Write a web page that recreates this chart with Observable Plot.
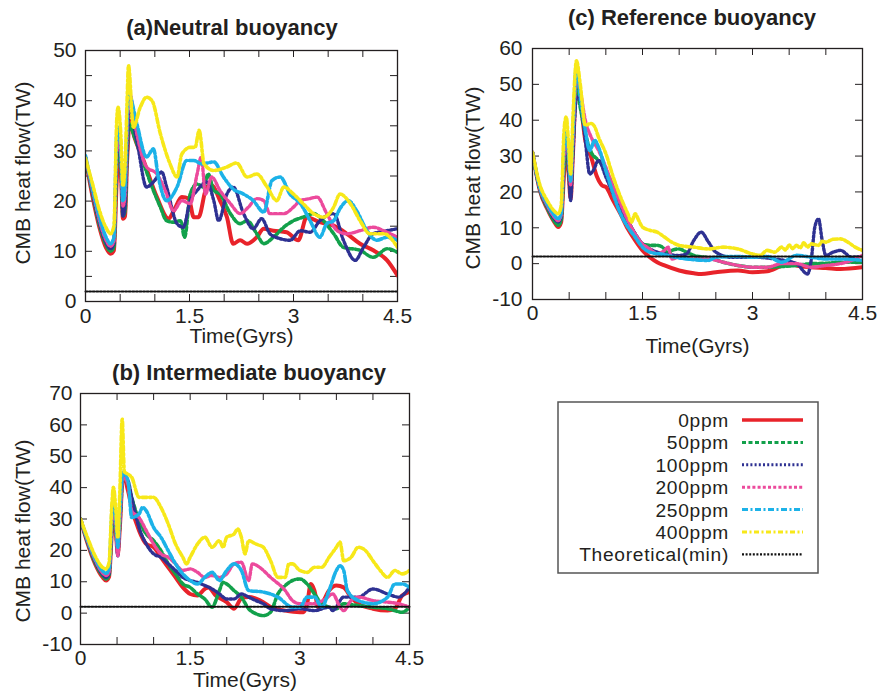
<!DOCTYPE html>
<html><head><meta charset="utf-8">
<script src="https://cdn.jsdelivr.net/npm/d3@7"></script>
<script src="https://cdn.jsdelivr.net/npm/@observablehq/plot@0.6"></script>
<style>
body{margin:0;background:#fff;}
#root{position:relative;width:880px;height:691px;font-family:"Liberation Sans",Arial,Helvetica,sans-serif;color:#231f20;overflow:hidden;}
.panel{position:absolute;}
.title{position:absolute;font-weight:bold;font-size:22px;white-space:nowrap;transform:translate(-50%,-50%);line-height:1;}
</style></head>
<body><div id="root"></div>
<script>
// ---------- tick values ----------
const xMinorTicks = [0,0.5,1,1.5,2,2.5,3,3.5,4,4.5];
const xLabelTicks = [0,1.5,3,4.5];
const aYTicks = [0,5,10,15,20,25,30,35,40,45,50];
const aYLabels = [0,10,20,30,40,50];
const bYTicks = [-10,0,10,20,30,40,50,60,70];
const cYTicks = [-10,0,10,20,30,40,50,60];

const seriesNames = ["0ppm","50ppm","100ppm","200ppm","250ppm","400ppm"];
const theoreticalName = "Theoretical(min)";
const theoretical = [[0,2],[4.5,2]];

// ---------- (a) Neutral buoyancy ----------
const a_0ppm = [[0,28.5],[0.1,21],[0.2,14.8],[0.3,10.6],[0.36,9.5],[0.41,10.2],[0.45,24],[0.48,29],[0.51,26],[0.54,16.5],[0.57,17],[0.6,28],[0.64,36],[0.7,33],[0.84,28],[1.03,20.8],[1.2,16.5],[1.27,18],[1.39,20.8],[1.49,20.5],[1.56,16.8],[1.63,16.8],[1.75,22.8],[1.82,23.1],[1.94,20.1],[2.04,16.8],[2.13,11.5],[2.23,12.2],[2.33,11.5],[2.47,12.8],[2.57,14.5],[2.71,14.1],[2.9,13.8],[3.07,12.2],[3.19,16.8],[3.38,15.8],[3.58,15.1],[3.77,13.5],[3.96,11.5],[4.15,10.2],[4.35,8.2],[4.5,5.2]];
const a_50ppm = [[0,28.6],[0.1,21.5],[0.2,15.3],[0.3,11.2],[0.36,10],[0.41,10.8],[0.45,27],[0.48,30],[0.51,27],[0.54,17],[0.57,18],[0.6,29],[0.63,35.4],[0.7,33],[0.84,27.4],[0.98,22.1],[1.08,18.8],[1.17,16.1],[1.27,15.8],[1.37,16.1],[1.43,12.8],[1.51,21.4],[1.61,23.4],[1.7,22.8],[1.77,25.4],[1.85,22.1],[1.94,21.4],[2.09,17.5],[2.23,15.5],[2.33,16.1],[2.47,13.5],[2.57,11.5],[2.71,12.8],[2.86,14.8],[3.0,16.1],[3.14,16.8],[3.29,17.5],[3.43,16.1],[3.58,13.5],[3.72,10.8],[3.96,10.2],[4.15,8.8],[4.35,10.5],[4.5,9.8]];
const a_100ppm = [[0,28.7],[0.1,21.8],[0.2,15.7],[0.3,11.6],[0.36,10.5],[0.41,11.5],[0.45,29],[0.48,31],[0.51,28],[0.54,17],[0.57,19],[0.6,30],[0.63,38],[0.74,32],[0.88,22.8],[0.98,23.8],[1.1,25.8],[1.17,22.8],[1.32,15.5],[1.41,14.8],[1.51,20.1],[1.61,22.1],[1.75,23.8],[1.85,20.1],[1.92,16.1],[2.04,21.4],[2.13,22.8],[2.28,17.5],[2.42,14.5],[2.54,16.5],[2.66,13.5],[2.81,12.5],[2.95,12.2],[3.1,14.1],[3.24,13.8],[3.38,16.1],[3.58,17.5],[3.72,12.2],[3.89,8.2],[4.01,10.8],[4.15,13.5],[4.35,14.1],[4.5,14.5]];
const a_200ppm = [[0,28.7],[0.1,22.2],[0.2,16.2],[0.3,12.1],[0.36,11],[0.41,12],[0.45,30],[0.48,32],[0.51,29],[0.54,19],[0.57,21],[0.6,33],[0.63,41.7],[0.74,33.4],[0.88,26.8],[1.03,25.4],[1.15,22.1],[1.27,18.1],[1.39,20.1],[1.51,19.5],[1.61,25.4],[1.67,28.8],[1.73,21.4],[1.82,24.8],[1.94,22.1],[2.09,19.5],[2.23,17.5],[2.35,18.8],[2.47,20.5],[2.57,20.1],[2.66,17.5],[2.86,17.5],[3.0,18.8],[3.1,20.1],[3.24,20.5],[3.34,20.8],[3.48,17.5],[3.63,14.1],[3.77,13.5],[3.96,14.1],[4.15,14.8],[4.3,14.1],[4.5,12.8]];
const a_250ppm = [[0,29],[0.1,22.6],[0.2,16.8],[0.3,12.7],[0.36,11.5],[0.41,12.8],[0.45,33],[0.48,34.7],[0.51,30],[0.54,20],[0.57,23],[0.6,36],[0.62,41.4],[0.74,35.4],[0.88,28.8],[0.98,30.4],[1.05,24.8],[1.17,20.1],[1.32,22.8],[1.46,28.1],[1.56,28.1],[1.68,27.4],[1.85,27.8],[1.99,24.8],[2.13,22.4],[2.28,21.4],[2.42,20.1],[2.57,17.8],[2.69,24.1],[2.81,24.8],[2.95,21.4],[3.1,19.5],[3.24,16.1],[3.38,12.8],[3.48,15.5],[3.58,16.1],[3.67,18.5],[3.79,20.1],[3.91,18.1],[4.06,14.1],[4.2,12.2],[4.35,12.8],[4.5,12.2]];
const a_400ppm = [[0,28.5],[0.1,23.5],[0.2,18.2],[0.3,14.6],[0.36,13.5],[0.41,15],[0.45,36],[0.47,38.7],[0.51,33],[0.54,23],[0.57,27],[0.6,40],[0.62,47],[0.69,34.7],[0.79,38.7],[0.88,40.7],[0.96,40],[1.08,33.4],[1.22,27.4],[1.32,24.8],[1.39,29.4],[1.51,30.7],[1.58,30.7],[1.64,34.1],[1.71,27.4],[1.85,26.1],[2.04,26.8],[2.18,27.6],[2.33,24.8],[2.47,25.4],[2.62,22.8],[2.76,20.1],[2.86,22.8],[3.0,21.4],[3.14,19.5],[3.29,17.5],[3.43,16.8],[3.58,18.8],[3.67,21.4],[3.82,19.5],[3.96,16.1],[4.1,13.5],[4.3,13.5],[4.5,10.8]];

// ---------- (b) Intermediate buoyancy ----------
const b_0ppm = [[0,30],[0.1,22],[0.2,15.7],[0.3,11.5],[0.35,10.4],[0.39,11.5],[0.43,26],[0.45,30.5],[0.48,27],[0.51,19],[0.54,28],[0.58,44.3],[0.65,39],[0.7,33.7],[0.8,26.3],[0.9,22],[1.0,21],[1.1,17.8],[1.2,14.6],[1.3,11.4],[1.4,8.2],[1.5,6.1],[1.6,5.6],[1.7,7.7],[1.75,8.2],[1.85,5.6],[2.0,3.5],[2.1,1.4],[2.2,4.6],[2.3,5.1],[2.4,4.6],[2.5,3.5],[2.6,1.9],[2.8,0.8],[3.0,0.3],[3.05,0.3],[3.1,3],[3.15,9.3],[3.2,7.2],[3.25,1.9],[3.3,3],[3.4,7.2],[3.5,8.8],[3.6,8.2],[3.7,5.1],[3.8,3],[4.0,1.4],[4.2,0.8],[4.3,1.4],[4.4,5.6],[4.5,6.7]];
const b_50ppm = [[0,30],[0.1,22.3],[0.2,16.1],[0.3,12],[0.35,10.9],[0.39,12],[0.43,27],[0.45,31.6],[0.48,28],[0.51,20],[0.54,29],[0.58,43.3],[0.65,41.1],[0.7,36.9],[0.8,29.5],[0.9,25.2],[1.0,23.1],[1.1,19.9],[1.2,15.7],[1.3,12.5],[1.4,9.3],[1.5,8.2],[1.6,6.1],[1.7,4.5],[1.8,1.9],[1.9,7.2],[1.95,9.8],[2.0,9.3],[2.1,7.2],[2.2,5.1],[2.3,1.4],[2.4,-0.2],[2.5,-0.8],[2.6,0.3],[2.7,6.1],[2.8,8.8],[2.9,10.4],[3.0,10.9],[3.1,9.3],[3.2,6.1],[3.3,3],[3.4,1.9],[3.5,1.4],[3.6,3],[3.8,2.4],[4.0,1.9],[4.2,1.4],[4.4,0.3],[4.5,1.9]];
const b_100ppm = [[0,30],[0.1,22.5],[0.2,16.5],[0.3,12.4],[0.35,11.4],[0.39,12.5],[0.43,29],[0.45,33.7],[0.48,29],[0.51,18.3],[0.54,30],[0.58,43.8],[0.65,42.2],[0.7,36.9],[0.8,27.3],[0.9,22],[1.0,18.9],[1.1,17.8],[1.2,15.7],[1.3,13.6],[1.4,11.4],[1.5,10.4],[1.6,9.8],[1.7,8.8],[1.8,7.7],[1.9,6.1],[2.0,4.5],[2.1,4.5],[2.2,6.1],[2.3,5.1],[2.4,4],[2.5,3],[2.6,1.4],[2.8,0.8],[3.0,1.4],[3.2,0.8],[3.4,1.9],[3.45,0.8],[3.6,5.1],[3.8,5.1],[4.0,7.7],[4.2,6.1],[4.35,5.1],[4.5,8.2]];
const b_200ppm = [[0,30],[0.1,22.8],[0.2,16.9],[0.3,12.9],[0.35,12],[0.39,13],[0.43,29],[0.45,32.6],[0.48,29],[0.51,18.3],[0.54,30],[0.58,43.3],[0.65,41.1],[0.7,32.6],[0.8,30.5],[0.9,26.3],[1.0,22],[1.1,18.9],[1.2,17.8],[1.3,15.7],[1.4,13.6],[1.5,14.1],[1.6,13],[1.7,11.4],[1.8,12],[1.9,11.4],[2.0,12.5],[2.1,15.7],[2.2,16.2],[2.3,10.4],[2.35,15.7],[2.45,14.6],[2.6,11.4],[2.8,7.2],[2.9,4],[3.0,3],[3.2,3],[3.35,4.5],[3.45,6.1],[3.55,1.9],[3.6,0.8],[3.7,4],[3.8,5.1],[4.0,4],[4.2,3.5],[4.35,3],[4.5,1.9]];
const b_250ppm = [[0,30],[0.1,23.2],[0.2,17.4],[0.3,13.5],[0.35,12.7],[0.39,14],[0.43,32],[0.45,36.4],[0.48,31],[0.51,21],[0.54,33],[0.58,44.9],[0.65,42.2],[0.7,30.5],[0.8,31.6],[0.85,33.7],[0.9,32.6],[1.0,27.3],[1.1,24.2],[1.2,19.9],[1.3,15.7],[1.4,12.5],[1.5,10.4],[1.6,9.3],[1.7,11.4],[1.8,13],[1.9,10.4],[2.0,13.6],[2.1,15.7],[2.2,13.6],[2.3,7.2],[2.5,6.7],[2.7,5.1],[2.9,1.9],[3.0,1.9],[3.1,5.1],[3.2,5.1],[3.3,1.9],[3.4,7.2],[3.5,13.6],[3.55,15.1],[3.6,13.6],[3.65,7.2],[3.8,4],[4.0,3],[4.2,5.1],[4.3,9.3],[4.4,9.3],[4.5,8.2]];
const b_400ppm = [[0,30],[0.1,23.8],[0.2,18.2],[0.3,14.6],[0.35,14.1],[0.39,16],[0.43,35],[0.45,40.1],[0.48,34],[0.51,24],[0.54,40],[0.57,61.8],[0.6,45],[0.65,44.3],[0.7,43.3],[0.8,36.9],[0.9,36.9],[1.0,36.9],[1.1,33.7],[1.2,28.4],[1.3,22],[1.4,17.8],[1.45,15.7],[1.5,17.8],[1.6,22],[1.7,24.2],[1.8,21],[1.9,23.1],[1.95,21],[2.0,24.2],[2.1,25.2],[2.15,26.8],[2.2,24.2],[2.25,18.9],[2.3,23.1],[2.4,22],[2.5,21],[2.6,16.7],[2.7,11.4],[2.8,11.4],[2.85,15.7],[2.9,15.7],[3.0,13.6],[3.1,13],[3.2,14.6],[3.3,14.6],[3.4,17.8],[3.5,21],[3.55,22.6],[3.6,16.7],[3.7,17.8],[3.8,21],[3.9,19.9],[4.0,16.7],[4.1,13.6],[4.2,11.4],[4.3,13.6],[4.4,12.5],[4.5,13.6]];

// ---------- (c) Reference buoyancy ----------
const c_0ppm = [[0,31],[0.1,20.4],[0.2,15.3],[0.3,11.5],[0.35,10.2],[0.39,11.5],[0.43,25],[0.46,30.7],[0.49,26],[0.52,18.1],[0.55,30],[0.6,50.2],[0.65,45.6],[0.72,34.4],[0.8,29.7],[0.88,24.2],[0.95,21.8],[1.0,21.4],[1.1,17.6],[1.2,13.9],[1.3,9.7],[1.4,6.5],[1.5,3.7],[1.6,1.8],[1.7,0.4],[1.8,-0.5],[2.0,-1.9],[2.2,-2.7],[2.3,-2.9],[2.5,-2.4],[2.8,-1.9],[3.0,-2.4],[3.2,-2.1],[3.35,-1],[3.5,0.4],[3.6,-0.5],[3.8,-1],[4.0,-1.2],[4.2,-1.5],[4.5,-1]];
const c_50ppm = [[0,31],[0.1,20.6],[0.2,15.6],[0.3,11.8],[0.35,10.7],[0.39,12],[0.43,27],[0.46,32],[0.49,27],[0.52,20],[0.55,32],[0.6,48.4],[0.65,43.7],[0.72,36.3],[0.8,31.1],[0.9,28.8],[1.0,26],[1.1,21.4],[1.2,15.8],[1.3,11.6],[1.4,8.3],[1.5,5.5],[1.6,5.1],[1.7,5.1],[1.8,4.1],[1.85,2.7],[1.9,3.7],[2.0,4.1],[2.1,3.2],[2.2,2.3],[2.4,1.6],[2.6,0.4],[2.8,-0.5],[3.0,-1],[3.2,-1],[3.4,-0.8],[3.6,-0.5],[3.8,0],[4.0,0.1],[4.2,0.4],[4.5,0.4]];
const c_100ppm = [[0,31],[0.1,20.8],[0.2,16],[0.3,12.5],[0.35,11.6],[0.39,13],[0.43,29],[0.46,34.4],[0.49,28],[0.52,17.6],[0.55,30],[0.6,46.5],[0.65,45.6],[0.72,34.4],[0.78,25],[0.83,26],[0.9,28.8],[1.0,24.2],[1.1,19.5],[1.2,15.8],[1.3,12],[1.4,8.3],[1.5,5.5],[1.6,4.1],[1.8,2.7],[2.0,2.3],[2.1,2.7],[2.2,6.5],[2.3,8.8],[2.4,6],[2.5,3.2],[2.7,1.8],[3.0,1.8],[3.3,1.3],[3.6,0],[3.75,-2.9],[3.8,0.9],[3.85,10.2],[3.9,12.5],[3.95,6.5],[4.0,2.3],[4.1,3.2],[4.2,3.7],[4.35,1.8],[4.5,2]];
const c_200ppm = [[0,31],[0.1,21],[0.2,16.3],[0.3,12.9],[0.35,12],[0.39,13.5],[0.43,30],[0.46,35],[0.49,30],[0.52,22],[0.55,34],[0.6,52.5],[0.65,48.4],[0.72,40],[0.8,35.3],[0.9,31.6],[1.0,26.9],[1.1,21.4],[1.2,16.7],[1.3,12],[1.4,8.3],[1.5,5.5],[1.6,4.1],[1.7,2.7],[1.8,3.7],[1.85,4.6],[1.9,1.3],[2.0,1.8],[2.2,1.3],[2.4,1.3],[2.6,0.4],[2.8,-0.5],[3.0,-1],[3.2,-1],[3.4,0],[3.6,0],[3.8,-1],[4.0,-0.5],[4.2,0],[4.4,1.3],[4.5,2.3]];
const c_250ppm = [[0,31],[0.1,21.3],[0.2,16.7],[0.3,13.4],[0.35,12.5],[0.39,14],[0.43,33],[0.46,36.7],[0.49,31],[0.52,23],[0.55,36],[0.6,55.3],[0.65,46.5],[0.72,37.2],[0.78,31.6],[0.85,34.4],[0.9,32.5],[1.0,26],[1.1,19.5],[1.2,13.9],[1.3,10.2],[1.4,7.4],[1.5,4.6],[1.6,3.2],[1.8,2.5],[2.0,1.6],[2.2,1.1],[2.4,0.9],[2.5,1.8],[2.8,2],[3.0,1.8],[3.2,2],[3.4,0.4],[3.6,2.3],[3.8,1.8],[4.0,1.3],[4.2,1.3],[4.5,0.9]];
const c_400ppm = [[0,31],[0.1,22],[0.2,17.6],[0.3,14.6],[0.35,13.9],[0.39,16],[0.43,37],[0.46,40.9],[0.49,34],[0.52,25],[0.55,40],[0.6,56.6],[0.65,50.2],[0.72,38.6],[0.8,39.1],[0.85,38.1],[0.9,35.3],[1.0,30.7],[1.1,24.2],[1.2,18.6],[1.3,13.9],[1.35,11.6],[1.4,13.9],[1.45,12],[1.5,10.2],[1.6,9.3],[1.7,8.8],[1.8,7.4],[1.9,6],[2.0,5.1],[2.2,4.6],[2.4,4.1],[2.6,4.6],[2.8,4.1],[3.0,2.7],[3.1,2.3],[3.2,3.7],[3.3,3.2],[3.4,4.6],[3.45,3.8],[3.5,5.2],[3.55,4.2],[3.6,5.1],[3.65,4.4],[3.7,5.8],[3.75,4.6],[3.8,5.5],[3.9,5.1],[3.95,6.2],[4.0,6],[4.1,6.8],[4.2,6.9],[4.3,6],[4.4,4.6],[4.5,3.7]];

// ---------- styles ----------
const colors = ["#e8232a","#12a14b","#2e3192","#ec4a9c","#1cb2e8","#f7e819"];
const dashes = [null,"4,2.5","2,2.2","3,2.2","6,2.5,2,2.5","5,2.5,2,2.5"];
const widths = [4,3.6,3.4,3.4,3.6,3.6];
const FONT = '"Liberation Sans", Arial, Helvetica, sans-serif';
const INK = "#231f20";

const root = document.getElementById("root");

function panel(o) {
  const innerW = o.width - o.mL - o.mR, innerH = o.height - o.mT - o.mB;
  const T = 7;
  const marks = [];
  // inward ticks on all four sides
  marks.push(Plot.ruleX(xMinorTicks, {x: d => d, insetTop: innerH - T, stroke: INK, strokeWidth: 1}));
  marks.push(Plot.ruleX(xMinorTicks, {x: d => d, insetBottom: innerH - T, stroke: INK, strokeWidth: 1}));
  marks.push(Plot.ruleY(o.yTicks, {y: d => d, insetRight: innerW - T, stroke: INK, strokeWidth: 1}));
  marks.push(Plot.ruleY(o.yTicks, {y: d => d, insetLeft: innerW - T, stroke: INK, strokeWidth: 1}));
  o.series.forEach((s, i) => {
    marks.push(Plot.line(s, {x: d => d[0], y: d => d[1], stroke: colors[i], strokeWidth: widths[i],
      strokeDasharray: dashes[i] || undefined, curve: "monotone-x", clip: true}));
  });
  marks.push(Plot.line(theoretical, {x: d => d[0], y: d => d[1], stroke: "#111", strokeWidth: 2, strokeDasharray: "2,1.6"}));
  marks.push(Plot.frame({stroke: INK, strokeWidth: 1.3}));
  marks.push(Plot.axisX(xLabelTicks, {tickSize: 0, tickPadding: o.xPad, tickFormat: d => String(d), label: null, fontSize: 21, fill: INK}));
  marks.push(Plot.axisY(o.yLabels, {tickSize: 0, tickPadding: o.yPad, tickFormat: d => String(d), label: null, fontSize: 21, fill: INK}));
  marks.push(Plot.text(["Time(Gyrs)"], {frameAnchor: "bottom", text: d => d, lineAnchor: "top", dy: o.xLabDy, fontSize: 21, fill: INK}));
  marks.push(Plot.text(["CMB heat flow(TW)"], {frameAnchor: "left", text: d => d, rotate: -90, textAnchor: "middle", lineAnchor: "middle", dx: o.yLabDx, dy: o.yLabDy, fontSize: 21, fill: INK}));
  const svg = Plot.plot({
    width: o.width, height: o.height,
    marginLeft: o.mL, marginRight: o.mR, marginTop: o.mT, marginBottom: o.mB,
    x: {domain: [0, 4.5]},
    y: {domain: o.yDomain},
    style: {fontFamily: FONT, fontSize: "21px", color: INK, background: "transparent", overflow: "visible"},
    marks
  });
  svg.classList.add("panel");
  svg.style.left = (o.frameLeft - o.mL) + "px";
  svg.style.top = (o.frameTop - o.mT) + "px";
  root.appendChild(svg);
  const t = document.createElement("div");
  t.className = "title";
  t.textContent = o.title;
  t.style.left = o.titleX + "px";
  t.style.top = o.titleY + "px";
  root.appendChild(t);
}

panel({title: "(a)Neutral buoyancy", titleX: 232, titleY: 28,
  series: [a_0ppm, a_50ppm, a_100ppm, a_200ppm, a_250ppm, a_400ppm],
  yDomain: [0, 50], yTicks: aYTicks, yLabels: aYLabels,
  frameLeft: 85, frameTop: 50, width: 437, height: 311, mL: 85, mR: 40, mT: 10, mB: 50,
  xPad: 7, yPad: 9, xLabDy: 27, yLabDx: -62, yLabDy: -3});

panel({title: "(c) Reference buoyancy", titleX: 692, titleY: 18,
  series: [c_0ppm, c_50ppm, c_100ppm, c_200ppm, c_250ppm, c_400ppm],
  yDomain: [-10, 60], yTicks: cYTicks, yLabels: cYTicks,
  frameLeft: 532, frameTop: 48, width: 437, height: 321, mL: 92, mR: 15, mT: 8, mB: 62,
  xPad: 6, yPad: 10, xLabDy: 39, yLabDx: -59, yLabDy: 4});

panel({title: "(b) Intermediate buoyancy", titleX: 249, titleY: 373,
  series: [b_0ppm, b_50ppm, b_100ppm, b_200ppm, b_250ppm, b_400ppm],
  yDomain: [-10, 70], yTicks: bYTicks, yLabels: bYTicks,
  frameLeft: 80, frameTop: 393, width: 434, height: 298, mL: 80, mR: 25, mT: 8, mB: 39,
  xPad: 6, yPad: 8, xLabDy: 28, yLabDx: -57, yLabDy: 12});

// ---------- legend ----------
(function legend() {
  const ns = "http://www.w3.org/2000/svg";
  const svg = document.createElementNS(ns, "svg");
  svg.setAttribute("width", 262); svg.setAttribute("height", 173);
  svg.style.position = "absolute"; svg.style.left = "557px"; svg.style.top = "401px";
  const rect = document.createElementNS(ns, "rect");
  rect.setAttribute("x", 1); rect.setAttribute("y", 1); rect.setAttribute("width", 260); rect.setAttribute("height", 171);
  rect.setAttribute("fill", "#fff"); rect.setAttribute("stroke", "#555"); rect.setAttribute("stroke-width", 1.5);
  svg.appendChild(rect);
  const entries = seriesNames.map((n, i) => ({name: n, color: colors[i], dash: dashes[i], w: i === 0 ? 3.4 : 3}))
    .concat([{name: theoreticalName, color: "#111", dash: "2,1.6", w: 2.4}]);
  entries.forEach((e, i) => {
    const cy = 19 + i * 22.4;
    const tx = document.createElementNS(ns, "text");
    tx.setAttribute("x", 172); tx.setAttribute("y", cy + 7);
    tx.setAttribute("text-anchor", "end");
    tx.setAttribute("font-size", 19.2); tx.setAttribute("letter-spacing", "0.7");
    tx.setAttribute("font-family", FONT); tx.setAttribute("fill", INK);
    tx.textContent = e.name;
    svg.appendChild(tx);
    const ln = document.createElementNS(ns, "line");
    ln.setAttribute("x1", 185); ln.setAttribute("x2", 246);
    ln.setAttribute("y1", cy); ln.setAttribute("y2", cy);
    ln.setAttribute("stroke", e.color); ln.setAttribute("stroke-width", e.w);
    if (e.dash) ln.setAttribute("stroke-dasharray", e.dash);
    svg.appendChild(ln);
  });
  root.appendChild(svg);
})();
</script>
</body></html>
